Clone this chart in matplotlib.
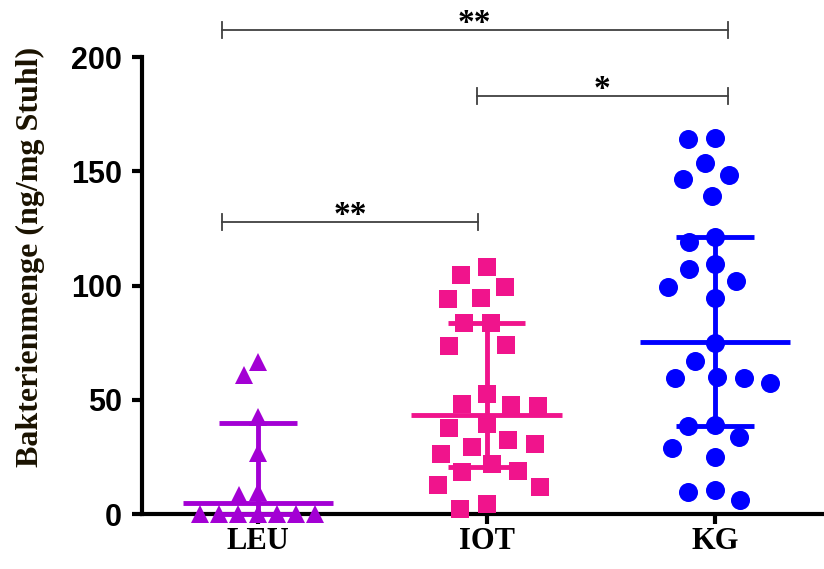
import numpy as np
import matplotlib.pyplot as plt

# Bakterienmenge je Gruppe (ng/mg Stuhl)
groups = ['LEU', 'IOT', 'KG']
leu = [66.5, 60.8, 42.6, 26.7, 9.8, 8.3, 0, 0, 0, 0, 0, 0, 0]
iot = [108.0, 104.6, 99.5, 94.7, 94.1, 83.7, 83.7, 74.0, 73.7, 52.5,
       48.0, 47.7, 47.3, 39.4, 37.5, 32.4, 30.6, 29.5, 26.3, 21.7,
       19.0, 18.5, 12.7, 11.7, 4.4, 2.1]
kg = [164.4, 164.0, 153.5, 148.4, 146.6, 139.3, 121.4, 119.2, 109.4, 107.1,
      102.0, 99.5, 94.7, 75.0, 67.1, 60.1, 59.4, 59.4, 57.2, 38.9,
      38.5, 33.8, 29.0, 25.1, 10.5, 9.8, 6.1]

# Median und Interquartilsabstand
medians = [5.0, 43.3, 75.4]
q1 = [0.0, 20.7, 38.5]
q3 = [39.8, 83.7, 121.1]

# Signifikanzen: (Gruppe links, Gruppe rechts, Hoehe, Text)
sig_pairs = [(0, 2, 211.8, '**'), (1, 2, 183.1, '*'), (0, 1, 127.8, '**')]

colors = ['#a300d4', '#f0148c', '#0000ff']
markers = ['^', 's', 'o']
msizes = [13, 13, 13.7]
spacing = [19, 27, 27]   # Mindestabstand der Punkte in Pixel

fig = plt.figure(figsize=(8.24, 5.69), dpi=100)
ax = fig.add_axes([142 / 824, 55 / 569, 680 / 824, 457 / 569])
ax.set_xlim(-0.508, 2.468)
ax.set_ylim(0, 200)

# Pixel pro Dateneinheit, fuer das Ausweichen der Punkte
px_x = 228.5
px_y = 457 / 200.0


def swarm(values, diam):
    # einfacher Beeswarm: jeder Punkt so nah wie moeglich an der Mitte
    placed = []
    offs = []
    for v in values:
        y = v * px_y
        cands = [0.0]
        for (xj, yj) in placed:
            dy = abs(y - yj)
            if dy < diam:
                w = np.sqrt(diam ** 2 - dy ** 2)
                cands += [xj - w, xj + w]
        cands.sort(key=lambda c: (abs(c), c))
        for c in cands:
            ok = True
            for (xj, yj) in placed:
                if (c - xj) ** 2 + (y - yj) ** 2 < diam ** 2 - 1e-6:
                    ok = False
                    break
            if ok:
                break
        placed.append((c, y))
        offs.append(c / px_x)
    return np.array(offs)


for i, vals in enumerate([leu, iot, kg]):
    vals = np.array(vals)
    offs = swarm(vals, spacing[i])
    ax.plot(i + offs, vals, linestyle='none', marker=markers[i],
            markersize=msizes[i], color=colors[i], markeredgewidth=0,
            clip_on=False, zorder=3)
    # Median-Linie und Quartile
    ax.plot([i - 0.33, i + 0.33], [medians[i]] * 2, color=colors[i],
            lw=3.5, solid_capstyle='butt', clip_on=False, zorder=4)
    ax.plot([i, i], [q1[i], q3[i]], color=colors[i], lw=3.5,
            solid_capstyle='butt', clip_on=False, zorder=4)
    for q in (q1[i], q3[i]):
        ax.plot([i - 0.17, i + 0.17], [q, q], color=colors[i], lw=3.5,
                solid_capstyle='butt', clip_on=False, zorder=4)

# Signifikanz-Klammern oberhalb
for a, b, h, txt in sig_pairs:
    x0 = a - 0.158 if a == 0 else a - 0.042
    x1 = b + 0.055
    if b == 1:
        x1 = b - 0.037
    ax.plot([x0, x1], [h, h], color='#404040', lw=1.3, clip_on=False)
    for xx in (x0, x1):
        ax.plot([xx, xx], [h - 3.5, h + 3.5], color='#404040', lw=1.3,
                clip_on=False)
    ax.text((x0 + x1) / 2, h - 1, txt, ha='center', va='baseline',
            fontsize=24, fontweight='bold', family='Liberation Serif')

for s in ['top', 'right']:
    ax.spines[s].set_visible(False)
for s in ['left', 'bottom']:
    ax.spines[s].set_linewidth(3)

ax.set_xticks(range(3))
ax.set_xticklabels(groups, fontsize=22, fontweight='bold',
                   family='Liberation Serif')
ax.set_yticks([0, 50, 100, 150, 200])
ax.set_yticklabels(['0', '50', '100', '150', '200'], fontsize=22,
                   fontweight='bold', family='Liberation Sans')
ax.tick_params(axis='both', direction='out', length=7.5, width=3)
ax.tick_params(axis='y', pad=7)
ax.tick_params(axis='x', pad=2)

fig.text(30 / 824, 1 - 257 / 569, 'Bakterienmenge (ng/mg Stuhl)',
         rotation=90, ha='center', va='center', fontsize=23,
         fontweight='bold', family='Liberation Serif', color='#1a1200')

fig.savefig('out.png', dpi=100)
